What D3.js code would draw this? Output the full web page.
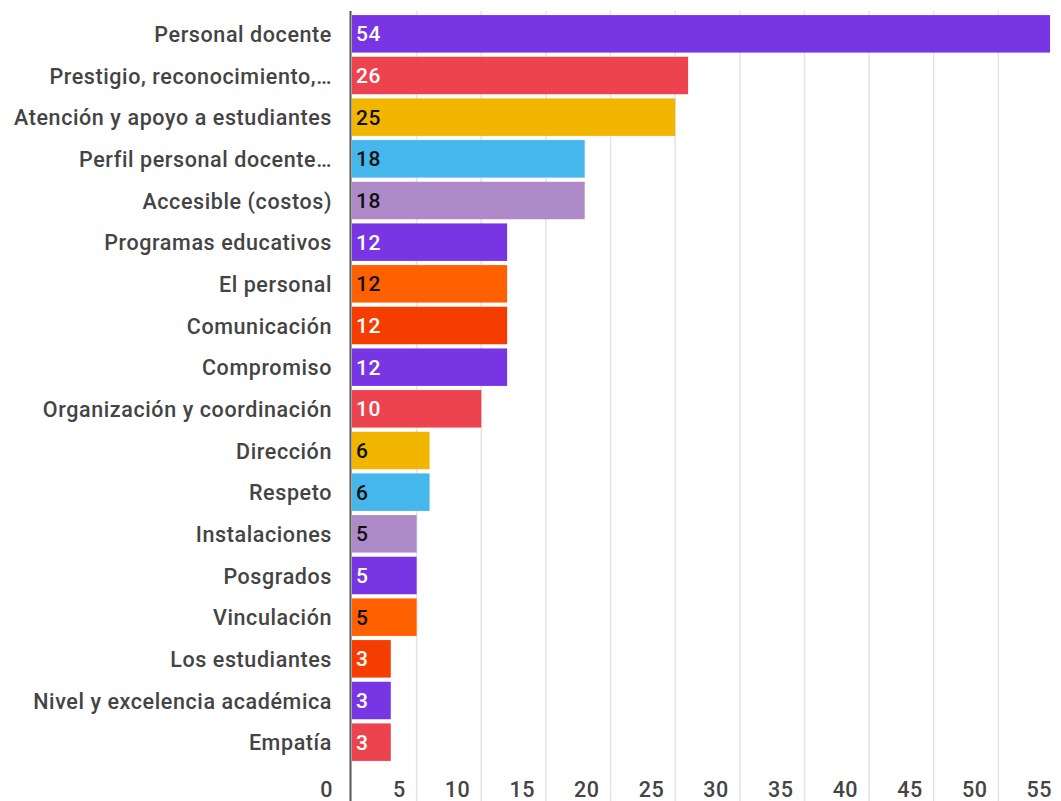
<!DOCTYPE html>
<html>
<head>
<meta charset="utf-8">
<script src="https://cdn.jsdelivr.net/npm/d3@7"></script>
<style>
  body { margin: 0; background: #fff; }
  text { font-family: Roboto, "Noto Sans", sans-serif; font-weight: 500; }
</style>
</head>
<body>
<div id="chart"></div>
<script>
// data
const categories = [
  "Personal docente",
  "Prestigio, reconocimiento,…",
  "Atención y apoyo a estudiantes",
  "Perfil personal docente…",
  "Accesible (costos)",
  "Programas educativos",
  "El personal",
  "Comunicación",
  "Compromiso",
  "Organización y coordinación",
  "Dirección",
  "Respeto",
  "Instalaciones",
  "Posgrados",
  "Vinculación",
  "Los estudiantes",
  "Nivel y excelencia académica",
  "Empatía"
];
const values = [54, 26, 25, 18, 18, 12, 12, 12, 12, 10, 6, 6, 5, 5, 5, 3, 3, 3];
const xTicks = [0, 5, 10, 15, 20, 25, 30, 35, 40, 45, 50, 55];

// colours cycle every 8 bars
const palette = ["#7735e3", "#ed434e", "#f2b600", "#45b7ea", "#ae8ac9", "#7735e3", "#ff6000", "#f53d00"];
const darkText = ["#f2b600", "#45b7ea", "#ae8ac9", "#ff6000"];

const width = 1061;
const height = 801;

const svg = d3
  .select("#chart")
  .append("svg")
  .attr("width", width)
  .attr("height", height);

const x = d3.scaleLinear().domain([0, 55]).range([352, 1063]);

const y = d3
  .scaleBand()
  .domain(categories)
  .range([13, 763])
  .paddingInner(0.1)
  .paddingOuter(0.05);

// gridlines
svg
  .selectAll(".grid")
  .data(xTicks.filter((d) => d > 0))
  .enter()
  .append("line")
  .attr("class", "grid")
  .attr("x1", (d) => x(d))
  .attr("x2", (d) => x(d))
  .attr("y1", 11)
  .attr("y2", height)
  .attr("stroke", "#e3e3e3")
  .attr("stroke-width", 1.5);

// bars
svg
  .selectAll(".bar")
  .data(values)
  .enter()
  .append("rect")
  .attr("class", "bar")
  .attr("x", x(0))
  .attr("y", (d, i) => y(categories[i]))
  .attr("width", (d) => x(d) - x(0))
  .attr("height", y.bandwidth())
  .attr("fill", (d, i) => palette[i % palette.length]);

// value labels inside bars
svg
  .selectAll(".val")
  .data(values)
  .enter()
  .append("text")
  .attr("class", "val")
  .attr("x", x(0) + 4)
  .attr("y", (d, i) => y(categories[i]) + y.bandwidth() / 2)
  .attr("dy", "0.36em")
  .attr("font-size", 21)
  .attr("letter-spacing", 0.5)
  .attr("fill", (d, i) =>
    darkText.includes(palette[i % palette.length]) ? "#111" : "#fff"
  )
  .text((d) => d);

// category labels
svg
  .selectAll(".cat")
  .data(categories)
  .enter()
  .append("text")
  .attr("class", "cat")
  .attr("x", 332)
  .attr("y", (d) => y(d) + y.bandwidth() / 2)
  .attr("dy", "0.38em")
  .attr("text-anchor", "end")
  .attr("font-size", 21.5)
  .attr("letter-spacing", 0.6)
  .attr("fill", "#444")
  .text((d) => d);

// x tick labels
svg
  .selectAll(".tick-label")
  .data(xTicks)
  .enter()
  .append("text")
  .attr("class", "tick-label")
  .attr("x", (d) => (d === 0 ? x(d) - 19 : x(d) - 11))
  .attr("y", 789)
  .attr("dy", "0.36em")
  .attr("text-anchor", "end")
  .attr("font-size", 21.5)
  .attr("letter-spacing", 0.5)
  .attr("fill", "#444")
  .text((d) => d);

// baseline axis
svg
  .append("line")
  .attr("x1", 350.5)
  .attr("x2", 350.5)
  .attr("y1", 11)
  .attr("y2", height)
  .attr("stroke", "#555")
  .attr("stroke-width", 2);
</script>
</body>
</html>
